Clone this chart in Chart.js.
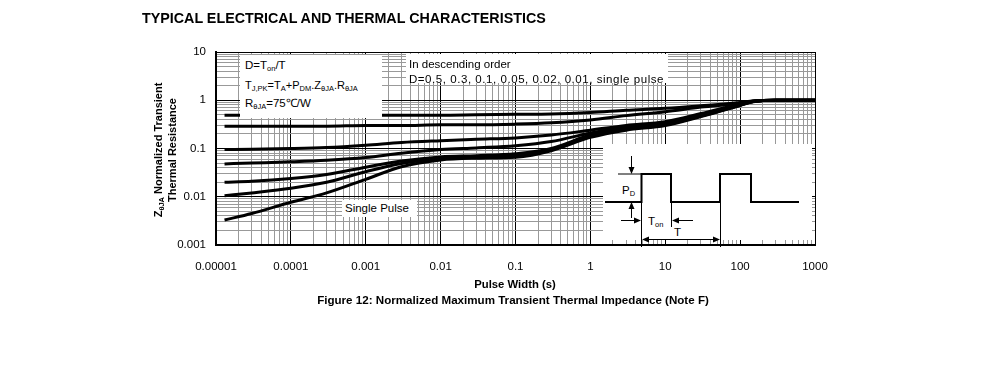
<!DOCTYPE html>
<html>
<head>
<meta charset="utf-8">
<title>Figure 12</title>
<script src="https://cdn.jsdelivr.net/npm/chart.js@4.4.1/dist/chart.umd.min.js"></script>
<style>
  body { margin: 0; background: #fff; }
  #wrap { position: relative; width: 991px; height: 367px; font-family: "Liberation Sans", Arial, sans-serif; color: #000; }
  #grafico { position: absolute; left: 0; top: 0; }
  .txt { position: absolute; white-space: nowrap; font-size: 11.5px; line-height: 13px; }
  .b { font-weight: bold; }
  .caixa { position: absolute; background: #fff; }
  sub { font-size: 7.5px; vertical-align: -2px; line-height: 0; }
  #inset { position: absolute; left: 0; top: 0; pointer-events: none; }
</style>
</head>
<body>
<div id="wrap">
  <canvas id="grafico" width="991" height="367"></canvas>

  <div class="txt b" style="left:142px;top:10px;font-size:14.3px;line-height:16px">TYPICAL ELECTRICAL AND THERMAL CHARACTERISTICS</div>
  <div class="txt b" style="left:75px;top:136px;width:180px;text-align:center;font-size:11px;line-height:14px;transform:rotate(-90deg)">Z<sub>θJA</sub> Normalized Transient<br>Thermal Resistance</div>
  <div class="txt b" style="left:415px;top:278px;width:200px;text-align:center;font-size:11.3px">Pulse Width (s)</div>
  <div class="txt b" style="left:263px;top:293px;width:500px;text-align:center;font-size:11.6px">Figure 12: Normalized Maximum Transient Thermal Impedance (Note F)</div>

  <div class="caixa" style="left:240px;top:55px;width:142px;height:63px">
    <div class="txt" style="left:5px;top:4px">D=T<sub>on</sub>/T</div>
    <div class="txt" style="left:5px;top:24px;font-size:11px">T<sub>J,PK</sub>=T<sub>A</sub>+P<sub>DM</sub>.Z<sub>θJA</sub>.R<sub>θJA</sub></div>
    <div class="txt" style="left:5px;top:42px">R<sub>θJA</sub>=75℃/W</div>
  </div>
  <div class="caixa" style="left:406px;top:54px;width:262px;height:29px">
    <div class="txt" style="left:3px;top:4px">In descending order</div>
    <div class="txt" style="left:3px;top:19px;letter-spacing:0.55px">D=0.5, 0.3, 0.1, 0.05, 0.02, 0.01, single pulse</div>
  </div>
  <div class="caixa" style="left:342px;top:200px;width:75px;height:17px">
    <div class="txt" style="left:3px;top:2px">Single Pulse</div>
  </div>

  <svg id="inset" width="991" height="367" font-family="Liberation Sans, Arial, sans-serif" font-size="11.5">
    <rect x="603" y="144" width="209" height="96" fill="#fff"/>
    <polyline points="605,202 641.5,202 641.5,174 671,174 671,202 720,202 720,174 751,174 751,202 799,202" fill="none" stroke="#000" stroke-width="2"/>
    <g stroke="#000" stroke-width="1" fill="none">
      <line x1="618" y1="174" x2="641" y2="174"/>
      <line x1="631.5" y1="156" x2="631.5" y2="170"/>
      <line x1="631.5" y1="218" x2="631.5" y2="206"/>
      <line x1="641.5" y1="202" x2="641.5" y2="247"/>
      <line x1="671.5" y1="202" x2="671.5" y2="227"/>
      <line x1="720.5" y1="202" x2="720.5" y2="247"/>
      <line x1="621" y1="220.5" x2="636" y2="220.5"/>
      <line x1="693" y1="220.5" x2="677" y2="220.5"/>
      <line x1="646" y1="239.5" x2="715" y2="239.5"/>
    </g>
    <g fill="#000">
      <polygon points="628.5,167 634.5,167 631.5,174"/>
      <polygon points="628.5,209 634.5,209 631.5,202"/>
      <polygon points="634,217.5 634,223.5 641,220.5"/>
      <polygon points="679,217.5 679,223.5 672,220.5"/>
      <polygon points="649,236.5 649,242.5 642,239.5"/>
      <polygon points="713,236.5 713,242.5 720,239.5"/>
    </g>
    <text x="622" y="194">P<tspan font-size="7.5" dy="2">D</tspan></text>
    <text x="648" y="225">T<tspan font-size="7.5" dy="2">on</tspan></text>
    <text x="674" y="236">T</text>
  </svg>
</div>

<script>
// values (pulse width in s, Z normalized)
const pulseWidth = [1.3e-5, 3e-5, 1e-4, 3e-4, 1e-3, 3e-3, 1e-2, 3e-2, 0.1, 0.3, 1, 3, 10, 30, 100, 150, 300, 1000];

const zD05    = [0.49, 0.49, 0.49, 0.49, 0.49, 0.49, 0.49, 0.5, 0.51, 0.52, 0.56, 0.62, 0.68, 0.77, 0.9, 0.97, 1.0, 1.0];
const zD03    = [0.29, 0.29, 0.29, 0.29, 0.3, 0.3, 0.31, 0.31, 0.32, 0.34, 0.39, 0.48, 0.58, 0.72, 0.87, 0.96, 1.0, 1.0];
const zD01    = [0.095, 0.097, 0.1, 0.105, 0.117, 0.133, 0.145, 0.155, 0.166, 0.19, 0.24, 0.3, 0.36, 0.53, 0.84, 0.95, 1.0, 1.0];
const zD005   = [0.048, 0.05, 0.053, 0.057, 0.065, 0.08, 0.095, 0.103, 0.114, 0.139, 0.21, 0.28, 0.34, 0.5, 0.82, 0.95, 1.0, 1.0];
const zD002   = [0.02, 0.021, 0.024, 0.029, 0.041, 0.055, 0.067, 0.071, 0.078, 0.1, 0.19, 0.26, 0.32, 0.48, 0.8, 0.94, 1.0, 1.0];
const zD001   = [0.0105, 0.012, 0.015, 0.02, 0.033, 0.049, 0.062, 0.067, 0.071, 0.094, 0.18, 0.25, 0.31, 0.47, 0.79, 0.94, 1.0, 1.0];
const zSingle = [0.0033, 0.0045, 0.0077, 0.012, 0.023, 0.042, 0.058, 0.063, 0.066, 0.09, 0.17, 0.24, 0.3, 0.46, 0.78, 0.93, 1.0, 1.0];

const seriesNames = ["D=0.5", "D=0.3", "D=0.1", "D=0.05", "D=0.02", "D=0.01", "single pulse"];
const seriesValues = [zD05, zD03, zD01, zD005, zD002, zD001, zSingle];

const xTickLabels = ["0.00001", "0.0001", "0.001", "0.01", "0.1", "1", "10", "100", "1000"];
const yTickLabels = ["0.001", "0.01", "0.1", "1", "10"];
const xExpMin = -5, xExpMax = 3;
const yExpMin = -3, yExpMax = 1;

const FONT = "'Liberation Sans', Arial, sans-serif";

function gradeLog(eMin, eMax) {
  const t = [];
  for (let e = eMin; e <= eMax; e++) {
    for (let s = 1; s <= 9; s++) {
      if (e === eMax && s > 1) break;
      t.push({ value: s * Math.pow(10, e) });
    }
  }
  return t;
}

function ehDecada(v) {
  const l = Math.log10(v);
  return Math.abs(l - Math.round(l)) < 1e-9;
}

function corGrade(ctx) {
  return ctx.tick && ehDecada(ctx.tick.value) ? "#000" : "#999";
}

function eixo(eMin, eMax, labels, extra) {
  return {
    type: "logarithmic",
    min: Math.pow(10, eMin),
    max: Math.pow(10, eMax),
    afterBuildTicks: (s) => { s.ticks = gradeLog(eMin, eMax); },
    grid: { color: corGrade, lineWidth: 1, drawTicks: false, tickLength: 0 },
    border: { color: "#000", width: 2 },
    ticks: {
      autoSkip: false, maxRotation: 0, minRotation: 0,
      color: "#000", font: { family: FONT, size: 11.5 },
      callback: (v) => ehDecada(v) ? labels[Math.round(Math.log10(v)) - eMin] : "",
    },
    ...extra,
  };
}

const datasets = seriesNames.map((nome, i) => ({
  label: nome,
  data: pulseWidth.map((x, j) => ({ x, y: seriesValues[i][j] })),
  borderColor: "#000",
  borderWidth: 3,
  pointRadius: 0,
  fill: false,
  cubicInterpolationMode: "monotone",
}));

const xScale = eixo(xExpMin, xExpMax, xTickLabels, { afterFit: (s) => { s.height = 122; } });
xScale.ticks.padding = 15;
const yScale = eixo(yExpMin, yExpMax, yTickLabels, { afterFit: (s) => { s.width = 216; } });
yScale.ticks.padding = 10;

new Chart(document.getElementById("grafico"), {
  type: "line",
  data: { datasets },
  options: {
    responsive: false,
    animation: false,
    devicePixelRatio: 1,
    layout: { padding: { left: 0, top: 52, right: 176, bottom: 0 } },
    plugins: { legend: { display: false }, tooltip: { enabled: false }, title: { display: false } },
    scales: { x: xScale, y: yScale },
  },
});
</script>
</body>
</html>
